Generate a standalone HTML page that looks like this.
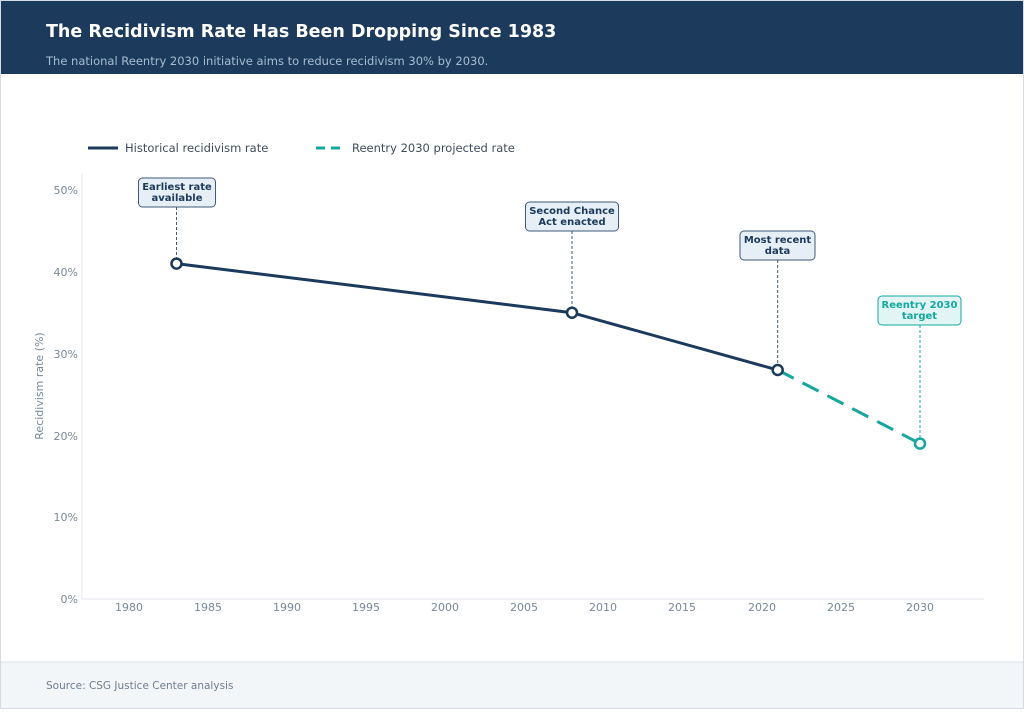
<!DOCTYPE html>
<html><head><style>
body{margin:0;width:1024px;height:709px;background:#fff;font-family:"DejaVu Sans","Liberation Sans",sans-serif;overflow:hidden}
</style></head><body>
<svg width="1024" height="709" xmlns="http://www.w3.org/2000/svg" font-family="DejaVu Sans, Liberation Sans, sans-serif">
<rect x="0.5" y="0.5" width="1023" height="708" fill="#fff" stroke="#d5dbe3"/>
<rect x="1" y="1" width="1022" height="73" fill="#1b3a5c"/>
<text x="46" y="37" fill="#fff" font-size="17.5" font-weight="bold">The Recidivism Rate Has Been Dropping Since 1983</text>
<text x="46" y="65" fill="#a9bdd2" font-size="11.5">The national Reentry 2030 initiative aims to reduce recidivism 30% by 2030.</text>
<rect x="1" y="662" width="1022" height="46" fill="#f3f6f9"/>
<line x1="1" y1="662" x2="1023" y2="662" stroke="#dde3ea"/>
<text x="46" y="689" fill="#6e7d8f" font-size="10.5">Source: CSG Justice Center analysis</text>
<line x1="88" y1="148" x2="118" y2="148" stroke="#1b3a5c" stroke-width="3"/>
<text x="125" y="152" fill="#3f4d5e" font-size="11.5">Historical recidivism rate</text>
<line x1="316" y1="148" x2="346" y2="148" stroke="#14a89f" stroke-width="3" stroke-dasharray="9,6"/>
<text x="352" y="152" fill="#3f4d5e" font-size="11.5">Reentry 2030 projected rate</text>
<line x1="82" y1="173" x2="82" y2="599" stroke="#e3e7ec"/>
<line x1="82" y1="599" x2="984" y2="599" stroke="#e3e7ec"/>
<g fill="#7a8899" font-size="11" text-anchor="end">
<text x="78" y="194">50%</text><text x="78" y="276">40%</text><text x="78" y="358">30%</text><text x="78" y="440">20%</text><text x="78" y="521">10%</text><text x="78" y="603">0%</text>
</g>
<g fill="#7a8899" font-size="11" text-anchor="middle">
<text x="129" y="611">1980</text><text x="208" y="611">1985</text><text x="287" y="611">1990</text><text x="366" y="611">1995</text><text x="445" y="611">2000</text><text x="524" y="611">2005</text><text x="603" y="611">2010</text><text x="682" y="611">2015</text><text x="762" y="611">2020</text><text x="841" y="611">2025</text><text x="920" y="611">2030</text>
</g>
<text transform="translate(43,386) rotate(-90)" fill="#7a8899" font-size="11" text-anchor="middle">Recidivism rate (%)</text>
<g stroke="#3f5a78" stroke-width="1" stroke-dasharray="3,2">
<line x1="176.5" y1="207" x2="176.5" y2="258"/>
<line x1="572" y1="231" x2="572" y2="307"/>
<line x1="777.7" y1="260" x2="777.7" y2="364"/>
</g>
<line x1="920" y1="325" x2="920" y2="438" stroke="#14a89f" stroke-width="1" stroke-dasharray="3,2"/>
<polyline points="176.5,263.6 572,312.7 777.7,370" fill="none" stroke="#1b3a5c" stroke-width="3"/>
<line x1="777.7" y1="370" x2="920" y2="443.6" stroke="#14a89f" stroke-width="3" stroke-dasharray="18,10"/>
<g fill="#fff" stroke-width="2.5">
<circle cx="176.5" cy="263.6" r="5" stroke="#1b3a5c"/>
<circle cx="572" cy="312.7" r="5" stroke="#1b3a5c"/>
<circle cx="777.7" cy="370" r="5" stroke="#1b3a5c"/>
<circle cx="920" cy="443.6" r="5" stroke="#14a89f"/>
</g>
<g font-size="10" font-weight="bold" text-anchor="middle">
<rect x="138.5" y="178" width="77" height="29" rx="4" fill="#e6eef6" stroke="#3f5a78"/>
<text x="177" y="190" fill="#1b3a5c">Earliest rate</text><text x="177" y="201" fill="#1b3a5c">available</text>
<rect x="525.5" y="202" width="93" height="29" rx="4" fill="#e6eef6" stroke="#3f5a78"/>
<text x="572" y="214" fill="#1b3a5c">Second Chance</text><text x="572" y="225" fill="#1b3a5c">Act enacted</text>
<rect x="740" y="231" width="75" height="29" rx="4" fill="#e6eef6" stroke="#3f5a78"/>
<text x="777.5" y="243" fill="#1b3a5c">Most recent</text><text x="777.5" y="254" fill="#1b3a5c">data</text>
<rect x="878" y="296" width="83" height="29" rx="4" fill="#e0f5f4" stroke="#14a89f"/>
<text x="919.5" y="308" fill="#14a89f">Reentry 2030</text><text x="919.5" y="319" fill="#14a89f">target</text>
</g>
</svg>
</body></html>
